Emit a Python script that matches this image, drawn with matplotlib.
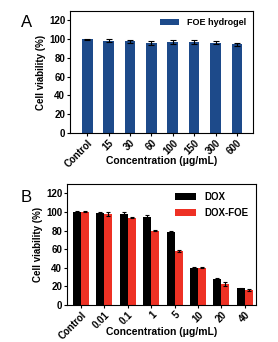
import matplotlib
matplotlib.use('Agg')
import matplotlib.pyplot as plt
import numpy as np

plt.rcParams['font.family'] = ['Liberation Sans', 'DejaVu Sans']
plt.rcParams['font.weight'] = 'bold'

labels_a = ['Control', '15', '30', '60', '100', '150', '300', '600']
foe = [100, 98.5, 97.5, 96, 97, 97, 96, 94.5]
foe_err = [0.5, 2, 1.8, 1.8, 2, 2.2, 1.5, 1.5]

labels_b = ['Control', '0.01', '0.1', '1', '5', '10', '20', '40']
dox = [100, 99, 98, 95, 78, 40, 28, 18]
dox_err = [0.5, 0.5, 2, 1.5, 1, 0.8, 1.5, 0.8]
doxfoe = [100, 98, 94, 80, 58, 40, 23, 16]
doxfoe_err = [0.5, 2, 1, 0.8, 1, 0.6, 2, 1]

fig = plt.figure(figsize=(2.78, 3.42), dpi=100)

def style(ax, labels, xl_y):
    ax.set_ylim(0, 130)
    ax.set_yticks(range(0, 121, 20))
    ax.set_xticks(np.arange(len(labels)))
    ax.set_xticklabels(labels, rotation=45, ha='right', rotation_mode='anchor', fontsize=7, fontweight='bold')
    ax.tick_params(axis='y', labelsize=7, length=2.5, width=0.8, pad=1)
    ax.tick_params(axis='x', length=2.5, width=0.8, pad=1)
    for s in ax.spines.values():
        s.set_linewidth(0.8)
    for t in ax.get_yticklabels():
        t.set_fontweight('bold')
    ax.set_ylabel('Cell viability (%)', fontsize=7, fontweight='bold', labelpad=2)
    ax.set_xlabel('Concentration (μg/mL)', fontsize=7.5, fontweight='bold')
    ax.xaxis.set_label_coords(0.5, xl_y)

# panel A
ax1 = fig.add_axes([0.252, 0.611, 0.658, 0.357])
x = np.arange(len(labels_a))
ax1.bar(x, foe, width=0.5, color='#1d4a8a', yerr=foe_err, capsize=2,
        error_kw={'elinewidth': 0.8, 'capthick': 0.8}, label='FOE hydrogel')
ax1.set_xlim(-0.8, 7.75)
style(ax1, labels_a, -0.19)
ax1.legend(loc='upper right', frameon=False, handlelength=2.2,
           borderaxespad=0.4, prop={'weight': 'bold', 'size': 6.5})
fig.text(0.075, 0.921, 'A', fontsize=12, fontweight='normal')

# panel B
ax2 = fig.add_axes([0.241, 0.108, 0.680, 0.354])
x = np.arange(len(labels_b))
w = 0.34
ax2.bar(x - w / 2, dox, width=w, color='black', yerr=dox_err, capsize=1.5,
        error_kw={'elinewidth': 0.8, 'capthick': 0.8}, label='DOX')
ax2.bar(x + w / 2, doxfoe, width=w, color='#ee3124', yerr=doxfoe_err, capsize=1.5,
        error_kw={'elinewidth': 0.8, 'capthick': 0.8}, label='DOX-FOE')
ax2.set_xlim(-0.6, 7.48)
style(ax2, labels_b, -0.18)
ax2.legend(loc='upper right', frameon=False, handlelength=2.2,
           borderaxespad=0.4, labelspacing=0.6, prop={'weight': 'bold', 'size': 7})
fig.text(0.075, 0.409, 'B', fontsize=12, fontweight='normal')

plt.savefig('out.png', dpi=100)
